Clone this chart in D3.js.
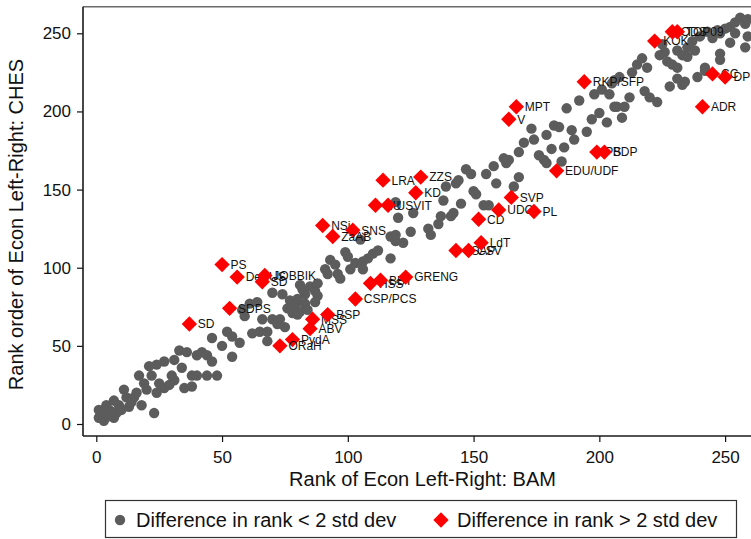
<!DOCTYPE html>
<html>
<head>
<meta charset="utf-8">
<script src="https://cdn.jsdelivr.net/npm/d3@7"></script>
<style>
  html, body { margin: 0; padding: 0; background: #fff; }
  svg { display: block; font-family: "Liberation Sans", Arial, Helvetica, sans-serif; }
</style>
</head>
<body>
<svg id="chart" width="751" height="539"></svg>
<script>
// Parties whose BAM and CHES ranks differ by less than 2 std dev: [BAM rank, CHES rank]
const withinTwoSD = [
  [1,4],[3,2],[1,9],[4,12],[5,9],[7,4],[8,7],[5,5],[9,12],[11,22],[12,17],[13,11],[15,17],[18,12],
  [17,31],[19,26],[21,37],[22,31],[24,38],[27,40],[31,41],[34,36],[25,26],[27,23],[24,20],[23,7],
  [30,31],[31,28],[29,25],[35,23],[38,24],[38,31],[40,31],[44,31],[48,31],[33,47],[36,46],[40,44],
  [42,46],[44,44],[46,40],[46,55],[2,7],[6,8],[10,9],[14,14],[16,20],[20,22],[7,15],
  [50,50],[54,43],[52,59],[54,56],[57,52],[62,58],[65,59],[68,59],[68,53],[59,69],[61,77],[64,78],
  [70,84],[74,83],[77,79],[80,78],[83,77],[76,74],[78,71],[70,67],[72,64],[75,62],[80,70],[58,73],
  [73,67],[78,75],[81,89],[85,88],[87,85],[88,82],[83,83],[88,90],[82,86],[80,80],[81,72],[66,67],
  [84,73],[87,78],
  [91,99],[93,105],[95,102],[96,96],[99,110],[100,107],[101,99],[103,103],[106,104],[106,99],
  [108,106],[110,109],[112,111],[117,106],[117,120],[119,117],[122,116],[120,132],[125,123],
  [126,135],[132,125],[133,121],[136,128],[137,133],[141,133],[143,154],[139,152],[138,143],
  [119,142],[105,118],[119,121],[97,93],[92,96],
  [142,135],[145,141],[144,156],[147,163],[150,149],[151,147],[154,140],[156,140],[155,160],
  [158,165],[159,154],[162,170],[163,167],[166,152],[168,158],[168,174],[173,189],[170,180],
  [174,182],[176,172],[178,169],[179,185],[181,176],[182,191],[184,190],[185,168],[186,177],
  [189,188],[190,182],[187,202],[192,207],[195,187],[197,195],[198,211],[200,199],[201,214],
  [203,193],[206,203],[206,220],[149,160],[164,169],[179,167],
  [205,218],[208,222],[204,211],[207,203],[210,203],[209,196],[212,209],[213,225],[215,230],
  [217,234],[219,228],[218,213],[220,209],[223,206],[224,236],[226,238],[227,232],[225,243],
  [228,216],[229,230],[231,228],[231,221],[233,217],[234,219],[231,239],[235,241],[233,236],
  [235,235],[238,239],[237,245],[240,248],[243,251],[245,247],[247,252],[248,250],[250,253],
  [252,254],[254,257],[256,260],[258,256],[259,259],[252,244],[258,241],[248,237],[248,233],
  [242,228],[239,222],[242,226],[259,248],[254,250]
];

// Parties whose ranks differ by more than 2 std dev
const outlierNames = [
  "SD","PS","DeSUS","JOBBIK","SD","SDPS","PydA","ORaH","ABV","MSS","BSP","CSP/PCS","HSS","BBT",
  "GRENG","NSi","SNS","ZaAB","LRA","ZZS","KD","RU","USVIT","CD","UDC","SVP","PL","LSAP","CSV",
  "LdT","EDU/UDF","PS","BDP","V","MPT","RKP/SFP","KOK","ODS","TOP09","CC","DP","ADR"
];
const outlierBAM = [
  37,50,56,67,66,53,78,73,85,86,92,103,109,113,
  123,90,102,94,114,129,127,111,116,152,160,165,174,143,148,
  153,183,199,202,164,167,194,222,229,231,245,250,241
];
const outlierCHES = [
  64,102,94,95,91,74,54,50,61,67,70,80,90,92,
  94,127,124,120,156,158,148,140,140,131,137,145,136,111,111,
  116,162,174,174,195,203,219,245,251,251,224,222,203
];

const xTicks = [0, 50, 100, 150, 200, 250];
const yTicks = [0, 50, 100, 150, 200, 250];

const legendLabels = ["Difference in rank < 2 std dev", "Difference in rank > 2 std dev"];

const grey = "#5c5c5c";
const red = "#ff0000";

const svg = d3.select("#chart");

// plot region frame
const frame = { left: 83, top: 6.7, bottom: 436, right: 800 };

const x = d3.scaleLinear().domain([0, 250]).range([96.3, 725.1]);
const y = d3.scaleLinear().domain([0, 250]).range([424, 33.3]);

// frame: top edge lighter, axes dark
svg.append("line")
  .attr("x1", frame.left).attr("x2", frame.right)
  .attr("y1", frame.top).attr("y2", frame.top)
  .attr("stroke", "#6a6a6a").attr("stroke-width", 1.6);

// axes
const yAxis = d3.axisLeft(y).tickValues(yTicks).tickSize(6).tickSizeOuter(0).tickPadding(6);
const gy = svg.append("g").attr("transform", `translate(${frame.left},0)`).call(yAxis);
const xAxis = d3.axisBottom(x).tickValues(xTicks).tickSize(6).tickSizeOuter(0).tickPadding(9);
const gx = svg.append("g").attr("transform", `translate(0,${frame.bottom})`).call(xAxis);

[gy, gx].forEach(g => {
  g.select(".domain").remove();
  g.selectAll(".tick line").attr("stroke", "#111").attr("stroke-width", 1.2);
  g.selectAll(".tick text")
    .attr("fill", "#111")
    .style("font-size", "17px")
    .style("font-family", "'Liberation Sans', Arial, Helvetica, sans-serif");
});

svg.append("line")
  .attr("x1", frame.left).attr("x2", frame.left)
  .attr("y1", frame.top).attr("y2", frame.bottom)
  .attr("stroke", "#1a1a1a").attr("stroke-width", 1.6);
svg.append("line")
  .attr("x1", frame.left).attr("x2", frame.right)
  .attr("y1", frame.bottom).attr("y2", frame.bottom)
  .attr("stroke", "#1a1a1a").attr("stroke-width", 1.6);

// axis titles
svg.append("text")
  .attr("x", 422.5).attr("y", 486)
  .attr("text-anchor", "middle")
  .style("font-size", "20px").attr("fill", "#111")
  .text("Rank of Econ Left-Right: BAM");

svg.append("text")
  .attr("transform", "translate(23,224.5) rotate(-90)")
  .attr("text-anchor", "middle")
  .style("font-size", "20px").attr("fill", "#111")
  .text("Rank order of Econ Left-Right: CHES");

// grey circles
svg.append("g").selectAll("circle")
  .data(withinTwoSD)
  .join("circle")
  .attr("cx", d => x(d[0]))
  .attr("cy", d => y(d[1]))
  .attr("r", 5.2)
  .attr("fill", grey);

// red diamonds with labels
const outliers = outlierNames.map((n, i) => ({ name: n, bam: outlierBAM[i], ches: outlierCHES[i] }));
const diamond = d3.symbol().type(d3.symbolDiamond2).size(150);

const og = svg.append("g");
outliers.forEach(d => {
  og.append("path")
    .attr("d", diamond())
    .attr("transform", `translate(${x(d.bam)},${y(d.ches)})`)
    .attr("fill", red);
  og.append("text")
    .attr("x", x(d.bam) + 8.5)
    .attr("y", y(d.ches))
    .attr("dy", "0.36em")
    .style("font-size", "12px")
    .attr("fill", "#111")
    .text(d.name);
});

// legend
const lg = svg.append("g");
lg.append("rect")
  .attr("x", 105.5).attr("y", 500.5)
  .attr("width", 631).attr("height", 37)
  .attr("fill", "#fff").attr("stroke", "#333").attr("stroke-width", 1.2);
lg.append("circle").attr("cx", 120).attr("cy", 520).attr("r", 5.2).attr("fill", grey);
lg.append("text").attr("x", 136).attr("y", 520).attr("dy", "0.36em")
  .style("font-size", "20px").attr("fill", "#111").text(legendLabels[0]);
lg.append("path").attr("d", diamond())
  .attr("transform", "translate(441,520)").attr("fill", red);
lg.append("text").attr("x", 457).attr("y", 520).attr("dy", "0.36em")
  .style("font-size", "20px").attr("fill", "#111").text(legendLabels[1]);
</script>
</body>
</html>
